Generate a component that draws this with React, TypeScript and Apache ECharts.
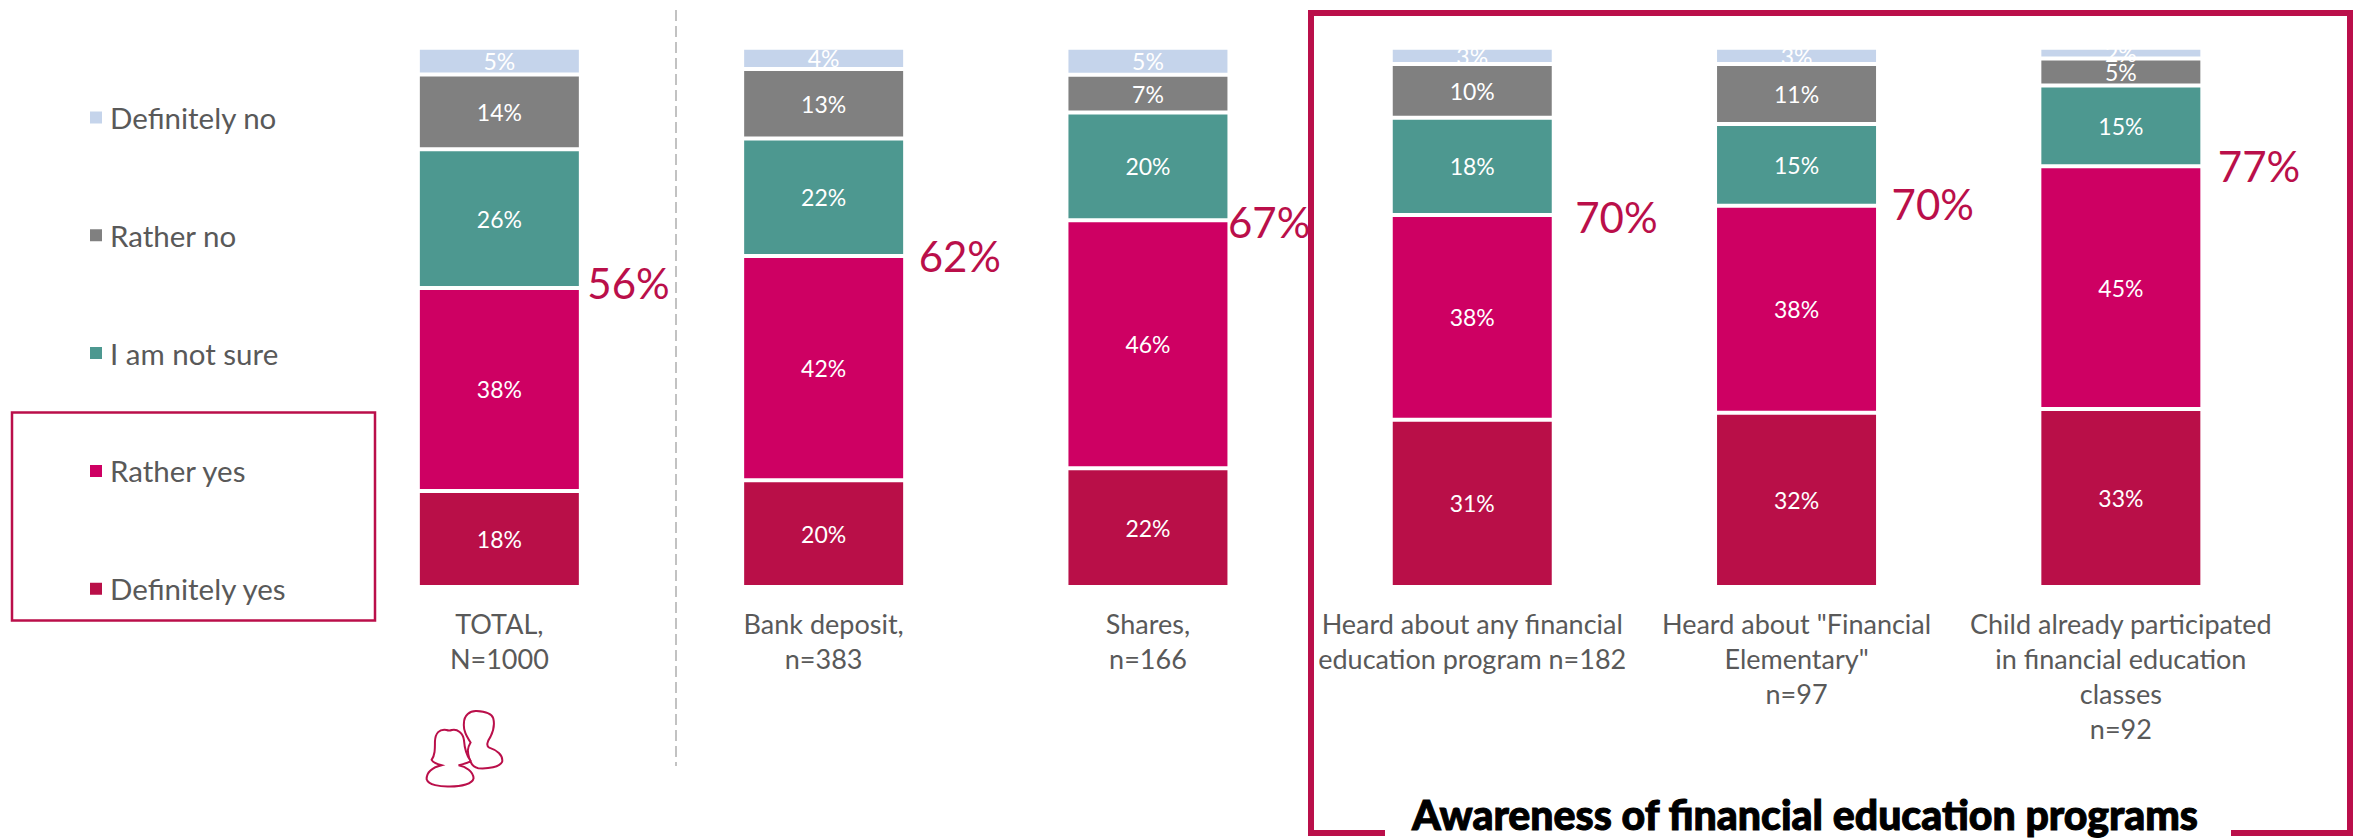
import React, { useEffect, useRef } from "react";
import * as echarts from "echarts";

// Survey answers per respondent group, in percent as printed on the bars.
const categories = [
  "TOTAL,\nN=1000",
  "Bank deposit,\nn=383",
  "Shares,\nn=166",
  "Heard about any financial\neducation program n=182",
  'Heard about "Financial\nElementary"\nn=97',
  "Child already participated\nin financial education\nclasses\nn=92",
];
const definitelyYes = [18, 20, 22, 31, 32, 33];
const ratherYes = [38, 42, 46, 38, 38, 45];
const notSure = [26, 22, 20, 18, 15, 15];
const ratherNo = [14, 13, 7, 10, 11, 5];
const definitelyNo = [5, 4, 5, 3, 3, 2];
const positiveTotals = [56, 62, 67, 70, 70, 77];

const legendOrder = ["Definitely no", "Rather no", "I am not sure", "Rather yes", "Definitely yes"];
const title = "Awareness of financial education programs";

const CRIMSON = "#BA0F4A";
const TEXT = "#595959";
const FONT = "Lato";

// Horizontal gap and vertical nudge of each large total next to its bar.
const totalGaps = [8, 15, 0, 23, 15, 17];
const totalNudges = [-5, 0, 2, 2, -2, 0];

const backPerson =
  "M290 93 C270 92 252 105 252 130 C250 150 258 165 272 188 C262 205 262 215 268 235 C272 250 280 262 295 265 C325 267 360 262 367 245 C370 225 350 210 328 203 C318 198 322 185 332 170 C342 150 344 130 340 115 C335 98 310 94 290 93 Z";
const frontPerson =
  "M200 150 C178 146 166 160 165 185 C165 210 165 225 155 240 C160 250 172 252 185 256 C160 262 140 275 140 298 C145 315 180 321 210 320 C245 320 278 312 281 295 C280 275 258 260 236 256 C250 252 265 250 272 243 C258 225 254 205 252 180 C250 160 232 146 216 150 C210 152 205 152 200 150 Z";

echarts.graphic.registerShape("personBack", echarts.graphic.extendPath(backPerson, {}));
echarts.graphic.registerShape("personFront", echarts.graphic.extendPath(frontPerson, {}));

// Each column is scaled to fill the axis, as a 100% stacked bar does.
const columnSums = categories.map(
  (_, i) => definitelyYes[i] + ratherYes[i] + notSure[i] + ratherNo[i] + definitelyNo[i],
);
const share = (values: number[]) => values.map((v, i) => (v / columnSums[i]) * 100);

const stacked = (name: string, values: number[], color: string) => ({
  name,
  type: "bar",
  stack: "answers",
  barWidth: 163,
  data: share(values),
  itemStyle: { color, borderColor: "#fff", borderWidth: 2 },
  label: {
    show: true,
    position: "inside",
    color: "#fff",
    fontFamily: FONT,
    fontSize: 23,
    formatter: (p: { dataIndex: number }) => `${values[p.dataIndex]}%`,
  },
});

export default function App() {
  const ref = useRef<HTMLDivElement>(null);

  useEffect(() => {
    document.body.style.margin = "0";
    const chart = echarts.init(ref.current!, undefined, { renderer: "svg" });
    const personStyle = { fill: "#fff", stroke: CRIMSON, lineWidth: 6 };
    chart.setOption({
      animation: false,
      backgroundColor: "#fff",
      title: {
        text: title,
        left: 1805,
        top: 794,
        textAlign: "center",
        padding: 0,
        textStyle: {
          fontFamily: FONT,
          fontWeight: 900,
          fontSize: 41,
          lineHeight: 41,
          color: "#000",
          textBorderColor: "#000",
          textBorderWidth: 1,
        },
      },
      legend: {
        orient: "vertical",
        left: 88,
        top: 102.5,
        data: legendOrder,
        icon: "rect",
        itemWidth: 14,
        itemHeight: 14,
        itemGap: 87.8,
        padding: 0,
        selectedMode: false,
        textStyle: { fontFamily: FONT, fontSize: 29.5, color: TEXT, lineHeight: 24, padding: [0, 0, 0, 2] },
      },
      grid: { left: 337.2, width: 1945.8, top: 47.7, height: 539.3 },
      xAxis: {
        type: "category",
        data: categories,
        axisLine: { show: false },
        axisTick: { show: false },
        axisLabel: {
          interval: 0,
          margin: 19,
          color: TEXT,
          fontFamily: FONT,
          fontSize: 27,
          lineHeight: 35,
        },
      },
      yAxis: { type: "value", min: 0, max: 100, show: false },
      series: [
        stacked("Definitely yes", definitelyYes, "#B90F48"),
        stacked("Rather yes", ratherYes, "#CE0063"),
        stacked("I am not sure", notSure, "#4D9890"),
        stacked("Rather no", ratherNo, "#808080"),
        stacked("Definitely no", definitelyNo, "#C5D4EB"),
        {
          name: "Positive total",
          type: "scatter",
          symbolSize: 1,
          itemStyle: { color: "transparent", opacity: 1 },
          z: 5,
          data: positiveTotals.map((total, i) => ({
            value: [i, ((definitelyYes[i] + ratherYes[i]) / columnSums[i]) * 100],
            label: {
              show: true,
              position: "right",
              distance: 79.5 + totalGaps[i],
              offset: [0, totalNudges[i]],
              formatter: `${total}%`,
              color: CRIMSON,
              fontFamily: FONT,
              fontSize: 42,
            },
          })),
        },
      ],
      graphic: [
        {
          type: "rect",
          shape: { x: 12, y: 412.5, width: 363, height: 208 },
          style: { fill: "none", stroke: CRIMSON, lineWidth: 2.5 },
        },
        {
          type: "line",
          shape: { x1: 676, y1: 10, x2: 676, y2: 766 },
          style: { stroke: "#AFAFAF", lineWidth: 1.5, lineDash: [11, 5] },
        },
        {
          type: "polyline",
          shape: {
            points: [
              [1385, 833],
              [1311, 833],
              [1311, 13],
              [2350, 13],
              [2350, 833],
              [2231, 833],
            ],
          },
          style: { fill: "none", stroke: CRIMSON, lineWidth: 6 },
        },
        { type: "personBack", x: 380, y: 680, scaleX: 1 / 3, scaleY: 1 / 3, style: personStyle },
        { type: "personFront", x: 380, y: 680, scaleX: 1 / 3, scaleY: 1 / 3, style: personStyle },
      ],
    });
    return () => chart.dispose();
  }, []);

  return <div ref={ref} style={{ width: 2364, height: 839 }} />;
}
